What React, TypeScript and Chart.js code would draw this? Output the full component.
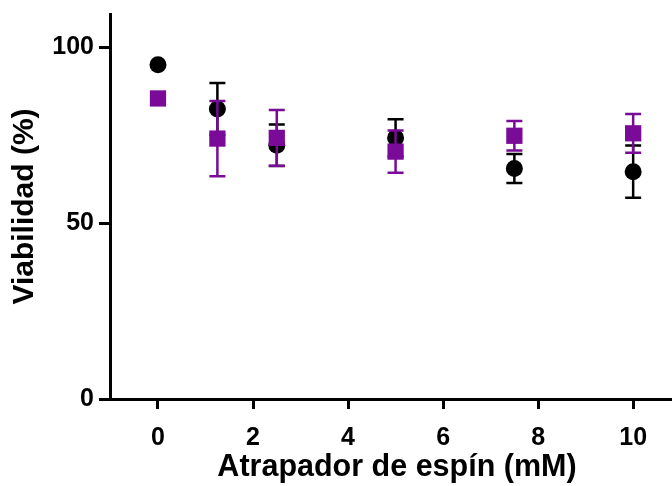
import React, { useEffect, useRef } from "react";
import { Chart, registerables } from "chart.js";

Chart.register(...registerables);

const xValues = [0, 1.25, 2.5, 5, 7.5, 10];
const blackMeans = [95, 82.4, 72.1, 74.2, 65.5, 64.6];
const blackErrors = [0, 7.4, 5.9, 5.3, 4.1, 7.4];
const purpleMeans = [85.4, 74.0, 74.2, 70.3, 74.8, 75.5];
const purpleErrors = [0, 10.7, 7.9, 6.0, 4.2, 5.5];
const xTicks = [0, 2, 4, 6, 8, 10];
const yTicks = [0, 50, 100];
const xTitle = "Atrapador de espín (mM)";
const yTitle = "Viabilidad (%)";

const PURPLE = "#7a0a98";
const BLACK = "#000000";
const FONT = "'Liberation Sans', Arial, sans-serif";

const errorBarPlugin = {
  id: "errorBars",
  beforeDatasetDraw(chart: any, args: any) {
    const ds: any = chart.data.datasets[args.index];
    const errs: number[] = ds.errors || [];
    const yScale = chart.scales.y;
    const ctx = chart.ctx;
    ctx.save();
    ctx.strokeStyle = ds.errColor;
    ctx.lineWidth = 2.5;
    args.meta.data.forEach((pt: any, i: number) => {
      const e = errs[i];
      if (!e) return;
      const v = ds.data[i].y;
      const top = yScale.getPixelForValue(v + e);
      const bot = yScale.getPixelForValue(v - e);
      const x = pt.x;
      ctx.beginPath();
      ctx.moveTo(x, top);
      ctx.lineTo(x, bot);
      ctx.moveTo(x - 8, top);
      ctx.lineTo(x + 8, top);
      ctx.moveTo(x - 8, bot);
      ctx.lineTo(x + 8, bot);
      ctx.stroke();
    });
    ctx.restore();
  },
};

export default function App() {
  const ref = useRef<HTMLCanvasElement | null>(null);
  useEffect(() => {
    document.body.style.margin = "0";
    const canvas = ref.current!;
    const chart = new Chart(canvas, {
      type: "scatter",
      data: {
        datasets: [
          {
            label: "purple",
            data: xValues.map((x, i) => ({ x, y: purpleMeans[i] })),
            errors: purpleErrors,
            errColor: PURPLE,
            pointStyle: "rect",
            pointRadius: 11.5,
            pointHoverRadius: 11.5,
            backgroundColor: PURPLE,
            borderColor: PURPLE,
            borderWidth: 0,
            clip: false,
          } as any,
          {
            label: "black",
            data: xValues.map((x, i) => ({ x, y: blackMeans[i] })),
            errors: blackErrors,
            errColor: BLACK,
            pointStyle: "circle",
            pointRadius: 8.5,
            pointHoverRadius: 8.5,
            backgroundColor: BLACK,
            borderColor: BLACK,
            borderWidth: 0,
            clip: false,
          } as any,
        ],
      },
      options: {
        responsive: false,
        animation: false,
        events: [],
        layout: { autoPadding: false, padding: { top: 14, right: 0, left: 0, bottom: 0 } },
        plugins: {
          legend: { display: false },
          tooltip: { enabled: false },
        },
        scales: {
          x: {
            type: "linear",
            min: -1.01,
            max: 11.07,
            afterBuildTicks: (s: any) => {
              s.ticks = xTicks.map((v) => ({ value: v }));
            },
            afterFit: (s: any) => {
              s.height = 87;
              s.paddingLeft = 0;
              s.paddingRight = 0;
              s.paddingTop = 0;
              s.paddingBottom = 0;
            },
            grid: {
              drawOnChartArea: false,
              drawTicks: true,
              tickLength: 10,
              tickWidth: 3,
              tickColor: "#000",
            },
            border: { display: true, width: 3, color: "#000" },
            ticks: {
              color: "#000",
              padding: 14,
              font: { family: FONT, size: 25, weight: "bold" },
              maxRotation: 0,
            },
            title: {
              display: true,
              text: xTitle,
              color: "#000",
              font: { family: FONT, size: 30.5, weight: "bold" },
              padding: { top: 0, bottom: 0 },
            },
          },
          y: {
            type: "linear",
            min: 0,
            max: 109.4,
            afterBuildTicks: (s: any) => {
              s.ticks = yTicks.map((v) => ({ value: v }));
            },
            afterFit: (s: any) => {
              s.width = 110;
              s.paddingLeft = 0;
              s.paddingRight = 0;
              s.paddingTop = 0;
              s.paddingBottom = 0;
            },
            grid: {
              drawOnChartArea: false,
              drawTicks: true,
              tickLength: 11,
              tickWidth: 3,
              tickColor: "#000",
            },
            border: { display: true, width: 3, color: "#000" },
            ticks: {
              color: "#000",
              padding: 5,
              font: { family: FONT, size: 25, weight: "bold" },
            },
            title: {
              display: true,
              text: yTitle,
              color: "#000",
              font: { family: FONT, size: 30, weight: "bold" },
              padding: { top: 7, bottom: 0 },
            },
          },
        },
      } as any,
      plugins: [errorBarPlugin],
    });
    return () => chart.destroy();
  }, []);
  return (
    <div style={{ width: 672, height: 486, overflow: "hidden" }}>
      <canvas ref={ref} width={684} height={486} style={{ display: "block" }} />
    </div>
  );
}
